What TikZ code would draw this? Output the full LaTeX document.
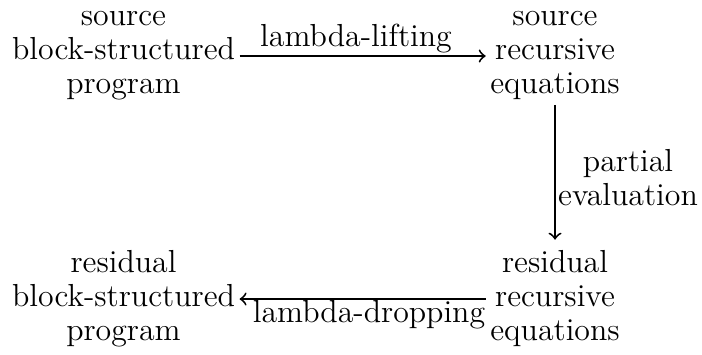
\documentclass[tikz,border=0pt]{standalone}
\usepackage{fontspec}
\setmainfont{lmroman12-regular}[Extension=.otf]
\usetikzlibrary{calc}
\begin{document}
\begin{tikzpicture}[x=0.3179pt,y=-0.3179pt,
  every node/.style={inner sep=0pt, align=center, font=\fontsize{10.13}{10.75}\selectfont},
  arr/.style={->, line width=0.6pt}]
\useasboundingbox (0,0) rectangle (702,354);
\node[anchor=base] (tl) at (123.5,93) {source\\block-structured\\program};
\node[anchor=base] (tr) at (555,93) {source\\recursive\\equations};
\node[anchor=base] (br) at (555,340) {residual\\recursive\\equations};
\node[anchor=base] (bl) at (123.5,340) {residual\\block-structured\\program};
\node[anchor=base] (l1) at (356,46) {lambda-lifting};
\node[anchor=base] (l2) at (628,205) {partial\\evaluation};
\node[anchor=base] (l3) at (369,322) {lambda-dropping};
\draw[arr] ($(tl.base east)+(4,-37)$) -- ($(tr.base west)+(-4,-37)$);
\draw[arr] ($(tr.south)+(0,5)$) -- ($(br.north)+(0,-10)$);
\draw[arr] ($(br.base west)+(-4,-41)$) -- ($(bl.base east)+(4,-41)$);
\end{tikzpicture}
\end{document}
